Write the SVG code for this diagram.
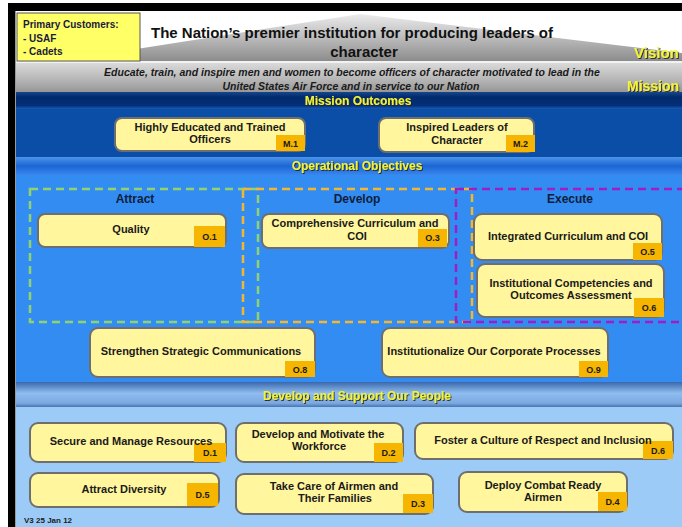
<svg xmlns="http://www.w3.org/2000/svg" width="682" height="527" viewBox="0 0 682 527">
<defs>
<linearGradient id="gTri" x1="0" y1="0" x2="0" y2="1"><stop offset="0" stop-color="#ececec"/><stop offset="1" stop-color="#8c8c8c"/></linearGradient>
<linearGradient id="gMis" x1="0" y1="0" x2="0" y2="1"><stop offset="0" stop-color="#dadada"/><stop offset="0.6" stop-color="#b4b4b4"/><stop offset="1" stop-color="#979797"/></linearGradient>
<linearGradient id="gMO" x1="0" y1="0" x2="0" y2="1"><stop offset="0" stop-color="#16468c"/><stop offset="0.3" stop-color="#022a6c"/><stop offset="0.8" stop-color="#03307a"/><stop offset="1" stop-color="#1a5ab4"/></linearGradient>
<linearGradient id="gOO" x1="0" y1="0" x2="0" y2="1"><stop offset="0" stop-color="#4c94ea"/><stop offset="0.5" stop-color="#1c66d4"/><stop offset="1" stop-color="#3a86ee"/></linearGradient>
<linearGradient id="gDS" x1="0" y1="0" x2="0" y2="1"><stop offset="0" stop-color="#3a68aa"/><stop offset="0.45" stop-color="#90bdf0"/><stop offset="0.85" stop-color="#7aa8e0"/><stop offset="1" stop-color="#4a74b0"/></linearGradient>
<filter id="sh" x="-10%" y="-30%" width="120%" height="160%"><feDropShadow dx="1" dy="1" stdDeviation="0.4" flood-color="#202020" flood-opacity="0.9"/></filter>
<style>
.nd{fill:#fff69e;stroke:#6e6e6e;stroke-width:2}
.tg{fill:#f6b500}
.t{font-family:"Liberation Sans",Arial,sans-serif;font-weight:bold;font-size:11px;fill:#1a1a1a;text-anchor:middle}
.tt{font-family:"Liberation Sans",Arial,sans-serif;font-weight:bold;font-size:9px;fill:#1a1a1a;text-anchor:middle}
.hd{font-family:"Liberation Sans",Arial,sans-serif;font-weight:bold;font-size:12px;fill:#0e1e3c;text-anchor:middle}
.bn{font-family:"Liberation Sans",Arial,sans-serif;font-weight:bold;font-size:12px;fill:#f2f23a;text-anchor:middle;filter:url(#sh)}
.dash{fill:none;stroke-width:2.5;stroke-dasharray:8 5}
</style>
</defs>

<!-- frame and bands -->
<rect x="0" y="0" width="682" height="527" fill="#ffffff"/>
<rect x="16" y="11" width="666" height="50" fill="#ffffff"/>
<polygon points="60,61 360,14 682,53 682,61" fill="url(#gTri)"/>
<rect x="16" y="61" width="666" height="2" fill="#f2f2f2"/>
<rect x="16" y="63" width="666" height="29" fill="url(#gMis)"/>
<rect x="16" y="92" width="666" height="17" fill="url(#gMO)"/>
<rect x="16" y="109" width="666" height="48" fill="#0b4ea8"/>
<rect x="16" y="157" width="666" height="18" fill="url(#gOO)"/>
<rect x="16" y="175" width="666" height="207" fill="#338cf2"/>
<rect x="16" y="382" width="666" height="25" fill="url(#gDS)"/>
<rect x="16" y="407" width="666" height="120" fill="#9ccbf8"/>
<rect x="8" y="3" width="674" height="8" fill="#000000"/>
<rect x="8" y="3" width="7" height="524" fill="#000000"/>
<rect x="15" y="11" width="1" height="516" fill="#9a9a9a"/>

<!-- header -->
<g id="customers">
<rect x="17" y="13" width="123" height="48" fill="#ffff66" stroke="#555" stroke-width="1"/>
<text x="23" y="28" font-family="'Liberation Sans',Arial,sans-serif" font-weight="bold" font-size="10" fill="#1a1a3a">Primary Customers:</text>
<text x="23" y="42" font-family="'Liberation Sans',Arial,sans-serif" font-weight="bold" font-size="10" fill="#1a1a3a">- USAF</text>
<text x="23" y="55" font-family="'Liberation Sans',Arial,sans-serif" font-weight="bold" font-size="10" fill="#1a1a3a">- Cadets</text>
</g>
<g id="vision">
<text x="352" y="38" font-family="'Liberation Sans',Arial,sans-serif" font-weight="bold" font-size="15" fill="#111" text-anchor="middle">The Nation’s premier institution for producing leaders of</text>
<text x="364" y="57" font-family="'Liberation Sans',Arial,sans-serif" font-weight="bold" font-size="15" fill="#111" text-anchor="middle">character</text>
<text x="634" y="58" font-family="'Liberation Sans',Arial,sans-serif" font-weight="bold" font-size="15" fill="#f4f43c" filter="url(#sh)">Vision</text>
</g>
<g id="mission">
<text x="352" y="76" font-family="'Liberation Sans',Arial,sans-serif" font-weight="bold" font-style="italic" font-size="10.5" fill="#1a1a1a" text-anchor="middle">Educate, train, and inspire men and women to become officers of character motivated to lead in the</text>
<text x="351" y="90" font-family="'Liberation Sans',Arial,sans-serif" font-weight="bold" font-style="italic" font-size="10.5" fill="#1a1a1a" text-anchor="middle">United States Air Force and in service to our Nation</text>
<text x="627" y="91" font-family="'Liberation Sans',Arial,sans-serif" font-weight="bold" font-size="14" fill="#f4f43c" filter="url(#sh)">Mission</text>
</g>

<!-- band titles -->
<text class="bn" x="358" y="105">Mission Outcomes</text>
<text class="bn" x="357" y="170">Operational Objectives</text>
<text class="bn" x="357" y="400">Develop and Support Our People</text>

<!-- dashed groupings -->
<g id="attract">
<rect class="dash" x="30" y="189" width="228" height="133" stroke="#8fd26e"/>
<text class="hd" x="135" y="203">Attract</text>
</g>
<g id="develop">
<rect class="dash" x="243" y="189" width="229" height="133" stroke="#f2b630"/>
<text class="hd" x="357" y="203">Develop</text>
</g>
<g id="execute">
<rect class="dash" x="456" y="189" width="240" height="133" stroke="#a01cc4"/>
<text class="hd" x="570" y="203">Execute</text>
</g>

<!-- mission outcomes -->
<g id="M1">
<rect class="nd" x="115" y="118" width="190" height="33" rx="7"/>
<rect class="tg" x="276" y="135" width="29" height="16"/>
<text class="t" x="210" y="131">Highly Educated and Trained</text>
<text class="t" x="210" y="143">Officers</text>
<text class="tt" x="290.5" y="147">M.1</text>
</g>
<g id="M2">
<rect class="nd" x="379" y="118" width="155" height="34" rx="7"/>
<rect class="tg" x="506" y="135" width="29" height="17"/>
<text class="t" x="457" y="131">Inspired Leaders of</text>
<text class="t" x="457" y="144">Character</text>
<text class="tt" x="520.5" y="147">M.2</text>
</g>

<!-- operational objectives -->
<g id="O1">
<rect class="nd" x="38" y="214" width="188" height="33" rx="7"/>
<rect class="tg" x="194" y="226" width="31" height="21"/>
<text class="t" x="131" y="233">Quality</text>
<text class="tt" x="209.5" y="240">O.1</text>
</g>
<g id="O3">
<rect class="nd" x="262" y="214" width="187" height="34" rx="7"/>
<rect class="tg" x="418" y="229" width="29" height="18"/>
<text class="t" x="355" y="227">Comprehensive Curriculum and</text>
<text class="t" x="357" y="240">COI</text>
<text class="tt" x="432.5" y="241">O.3</text>
</g>
<g id="O5">
<rect class="nd" x="474" y="214" width="188" height="46" rx="8"/>
<rect class="tg" x="633" y="243" width="29" height="17"/>
<text class="t" x="568" y="240">Integrated Curriculum and COI</text>
<text class="tt" x="647.5" y="255">O.5</text>
</g>
<g id="O6">
<rect class="nd" x="477" y="264" width="187" height="53" rx="8"/>
<rect class="tg" x="634" y="298" width="30" height="19"/>
<text class="t" x="571" y="287">Institutional Competencies and</text>
<text class="t" x="571" y="299">Outcomes Assessment</text>
<text class="tt" x="649" y="311">O.6</text>
</g>
<g id="O8">
<rect class="nd" x="90" y="328" width="225" height="49" rx="8"/>
<rect class="tg" x="285" y="361" width="30" height="16"/>
<text class="t" x="201" y="355">Strengthen Strategic Communications</text>
<text class="tt" x="300" y="373">O.8</text>
</g>
<g id="O9">
<rect class="nd" x="382" y="328" width="226" height="49" rx="8"/>
<rect class="tg" x="579" y="361" width="29" height="16"/>
<text class="t" x="494" y="355">Institutionalize Our Corporate Processes</text>
<text class="tt" x="593.5" y="373">O.9</text>
</g>

<!-- develop and support -->
<g id="D1">
<rect class="nd" x="30" y="423" width="196" height="39" rx="8"/>
<rect class="tg" x="194" y="443" width="32" height="19"/>
<text class="t" x="131" y="445">Secure and Manage Resources</text>
<text class="tt" x="210" y="456">D.1</text>
</g>
<g id="D2">
<rect class="nd" x="236" y="423" width="167" height="39" rx="8"/>
<rect class="tg" x="374" y="443" width="29" height="19"/>
<text class="t" x="318" y="438">Develop and Motivate the</text>
<text class="t" x="319" y="450">Workforce</text>
<text class="tt" x="388.5" y="456">D.2</text>
</g>
<g id="D6">
<rect class="nd" x="415" y="423" width="258" height="36" rx="8"/>
<rect class="tg" x="643" y="441" width="30" height="18"/>
<text class="t" x="543" y="444">Foster a Culture of Respect and Inclusion</text>
<text class="tt" x="658" y="454">D.6</text>
</g>
<g id="D5">
<rect class="nd" x="30" y="473" width="189" height="34" rx="8"/>
<rect class="tg" x="187" y="483" width="31" height="23"/>
<text class="t" x="124" y="493">Attract Diversity</text>
<text class="tt" x="202.5" y="498">D.5</text>
</g>
<g id="D3">
<rect class="nd" x="236" y="474" width="197" height="40" rx="8"/>
<rect class="tg" x="403" y="494" width="30" height="19"/>
<text class="t" x="334" y="490">Take Care of Airmen and</text>
<text class="t" x="335" y="502">Their Families</text>
<text class="tt" x="418" y="507">D.3</text>
</g>
<g id="D4">
<rect class="nd" x="459" y="472" width="168" height="40" rx="8"/>
<rect class="tg" x="598" y="492" width="29" height="19"/>
<text class="t" x="543" y="489">Deploy Combat Ready</text>
<text class="t" x="543" y="501">Airmen</text>
<text class="tt" x="612.5" y="505">D.4</text>
</g>

<g id="connectors"/>

<text x="24" y="523" font-family="'Liberation Sans',Arial,sans-serif" font-weight="bold" font-size="8" fill="#1a1a1a">V3  25 Jan 12</text>
</svg>
